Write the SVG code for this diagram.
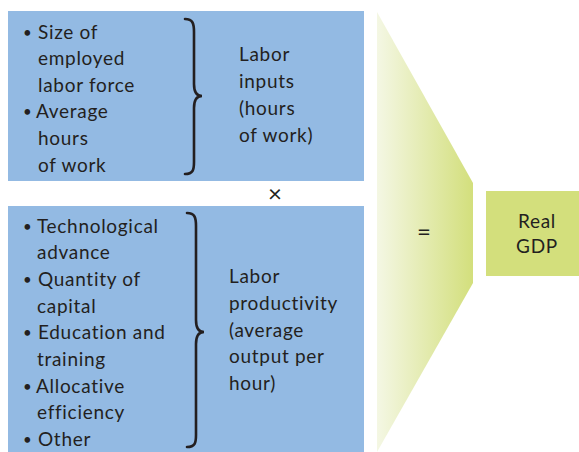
<svg xmlns="http://www.w3.org/2000/svg" width="579" height="452" viewBox="0 0 579 452">
<defs>
<linearGradient id="g" x1="0" y1="0" x2="1" y2="0">
<stop offset="0" stop-color="#F4F7E4"/>
<stop offset="1" stop-color="#D3DF7C"/>
</linearGradient>
<style>
text{font-family:Lato,"Open Sans",sans-serif;font-size:19px;letter-spacing:0.7px;fill:#231F20}
text.b{font-size:15px;letter-spacing:0}
text.op{font-size:24px;letter-spacing:0}
.box{fill:#93BAE3}
.brace{fill:none;stroke:#231F20;stroke-width:2.6;stroke-linecap:round}
</style>
</defs>
<rect width="579" height="452" fill="#fff"/>
<g id="labor-inputs">
<rect class="box" x="8" y="11" width="356" height="170"/>
<text class="b" x="23" y="38">•</text>
<text x="38" y="39">Size of</text>
<text x="38" y="65">employed</text>
<text x="38" y="92">labor force</text>
<text class="b" x="23" y="117">•</text>
<text x="36" y="118">Average</text>
<text x="38" y="145">hours</text>
<text x="38" y="172">of work</text>
<path class="brace" d="M185,19 C193,19 194,24 194,32 L194,84 C194,92 197,96 202,96 C197,96 194,100 194,108 L194,162 C194,170 193,174 185,174"/>
<text x="239" y="61">Labor</text>
<text x="239" y="88">inputs</text>
<text x="239" y="115">(hours</text>
<text x="239" y="142">of work)</text>
</g>
<g id="times"><text class="op" x="275" y="202" text-anchor="middle">×</text></g>
<g id="labor-productivity">
<rect class="box" x="8" y="206" width="356" height="246"/>
<text class="b" x="23" y="232">•</text>
<text x="37" y="233">Technological</text>
<text x="37" y="259">advance</text>
<text class="b" x="23" y="285">•</text>
<text x="38" y="286">Quantity of</text>
<text x="37" y="313">capital</text>
<text class="b" x="23" y="338">•</text>
<text x="38" y="339">Education and</text>
<text x="37" y="366">training</text>
<text class="b" x="23" y="392">•</text>
<text x="36" y="393">Allocative</text>
<text x="37" y="419">efficiency</text>
<text class="b" x="23" y="445">•</text>
<text x="38" y="446">Other</text>
<path class="brace" d="M187,213 C195,213 196,218 196,226 L196,320 C196,328 199,332 204,332 C199,332 196,336 196,344 L196,435 C196,443 195,447 187,447"/>
<text x="229" y="283">Labor</text>
<text x="229" y="310">productivity</text>
<text x="229" y="337">(average</text>
<text x="229" y="363">output per</text>
<text x="229" y="390">hour)</text>
</g>
<g id="equals">
<polygon points="377,12 473,183 473,283 377,452" fill="url(#g)"/>
<text class="op" x="424" y="240" text-anchor="middle">=</text>
</g>
<g id="real-gdp">
<rect x="486" y="191" width="93" height="85" fill="#D3DF7C"/>
<text x="537" y="228" text-anchor="middle">Real</text>
<text x="537" y="253" text-anchor="middle">GDP</text>
</g>
<g id="connectors"></g>
</svg>
